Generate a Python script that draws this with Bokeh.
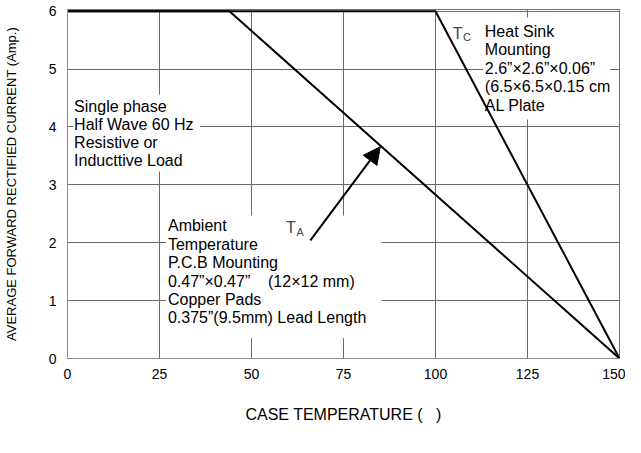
from bokeh.plotting import figure
from bokeh.models import (Range1d, FixedTicker, Label, BoxAnnotation, Arrow,
                          NormalHead)
from bokeh.embed import file_html
from bokeh.resources import INLINE

# ---- data -------------------------------------------------------------
temp_ambient = [0, 44, 150]
current_ambient = [6, 6, 0]
temp_case = [0, 100, 150]
current_case = [6, 6, 0]

x_ticks = [0, 25, 50, 75, 100, 125, 150]
y_ticks = [0, 1, 2, 3, 4, 5, 6]

NB = "\u00a0"
note_single = ["Single phase", "Half Wave 60 Hz", "Resistive or", "Inducttive Load"]
note_heat = ["Heat Sink", "Mounting", "2.6\u201d\u00d72.6\u201d\u00d70.06\u201d",
             "(6.5\u00d76.5\u00d70.15 cm", "AL Plate"]
note_amb = ["Ambient", "Temperature", "P.C.B Mounting",
            "0.47\u201d\u00d70.47\u201d" + NB * 4 + "(12\u00d712 mm)", "Copper Pads",
            "0.375\u201d(9.5mm) Lead Length"]
x_title = "CASE TEMPERATURE (" + NB * 3 + ")"
y_title = "AVERAGE FORWARD RECTIFIED CURRENT (Amp.)"

arrow_from = (66, 2.04)
arrow_to = (85, 3.66)

FONT = "Liberation Sans"

p = figure(width=625, height=437, output_backend="svg", toolbar_location=None,
           x_range=Range1d(0, 150), y_range=Range1d(0, 6.03),
           min_border_left=58, min_border_right=6, min_border_top=9,
           min_border_bottom=79)
p.background_fill_color = "white"
p.border_fill_color = "white"
p.outline_line_color = "#707070"
p.outline_line_width = 1

for ax in (p.xaxis[0], p.yaxis[0]):
    ax.major_tick_line_color = None
    ax.minor_tick_line_color = None
    ax.axis_line_color = "#8a8a8a"
    ax.major_label_text_font = FONT
    ax.major_label_text_font_size = "14px"
    ax.major_label_text_color = "black"
    ax.axis_label_text_font = FONT
    ax.axis_label_text_font_style = "normal"
    ax.axis_label_text_color = "black"

p.xaxis.ticker = FixedTicker(ticks=x_ticks)
p.yaxis.ticker = FixedTicker(ticks=y_ticks)
p.xaxis.major_label_standoff = 4
p.yaxis.major_label_standoff = 5
p.xaxis.axis_label = x_title
p.xaxis.axis_label_text_font_size = "16px"
p.xaxis.axis_label_standoff = 24
p.yaxis.axis_label = y_title
p.yaxis.axis_label_text_font_size = "13px"
p.yaxis.axis_label_standoff = 27

p.xgrid.ticker = FixedTicker(ticks=x_ticks)
p.ygrid.ticker = FixedTicker(ticks=y_ticks)
p.grid.grid_line_color = "#6a6a6a"
p.grid.grid_line_width = 1

# white backgrounds behind the notes (hide the grid)
for (l, r, b, t) in [(1.6, 36.0, 3.23, 4.56), (112.9, 147.4, 4.13, 5.89),
                     (26.8, 85.3, 0.35, 2.47)]:
    p.add_layout(BoxAnnotation(left=l, right=r, bottom=b, top=t,
                               fill_color="white", fill_alpha=1.0,
                               line_color=None, level="underlay"))

# curves
p.line(temp_ambient, current_ambient, line_color="black", line_width=2)
p.line(temp_case, current_case, line_color="black", line_width=2)


def note(lines, x, y, step):
    for i, t in enumerate(lines):
        p.add_layout(Label(x=x, y=y, y_offset=-i * step, text=t,
                           text_font=FONT, text_font_size="16px",
                           text_color="black", text_baseline="middle",
                           text_align="left"))


note(note_single, 1.8, 4.35, 18)
note(note_heat, 113.4, 5.65, 18.5)
note(note_amb, 27.3, 2.29, 18.4)

# T_C and T_A labels
p.add_layout(Label(x=104.7, y=5.62, text="T", text_font=FONT, text_font_size="16px",
                   text_baseline="middle"))
p.add_layout(Label(x=107.5, y=5.55, text="C", text_font=FONT, text_font_size="11px",
                   text_baseline="middle"))
p.add_layout(Label(x=59.4, y=2.27, text="T", text_font=FONT, text_font_size="16px",
                   text_baseline="middle"))
p.add_layout(Label(x=62.2, y=2.19, text="A", text_font=FONT, text_font_size="11px",
                   text_baseline="middle"))

p.add_layout(Arrow(x_start=arrow_from[0], y_start=arrow_from[1],
                   x_end=arrow_to[0], y_end=arrow_to[1], line_width=2,
                   line_color="black",
                   end=NormalHead(size=17, fill_color="black", line_color="black")))

open("out.html", "w").write(file_html(p, INLINE))
